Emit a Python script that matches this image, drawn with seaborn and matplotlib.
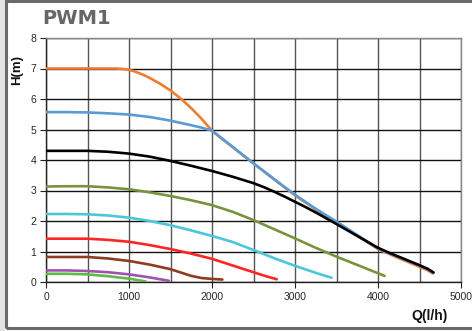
#!/usr/bin/env python3
"""PWM1 pump curves: head H(m) vs flow Q(l/h) for each speed step."""

import matplotlib

matplotlib.use("Agg")
import matplotlib.pyplot as plt
import pandas as pd
import seaborn as sns
from matplotlib.patches import Rectangle
from matplotlib.ticker import MultipleLocator

# curves, top speed first
q_orange = [0, 500, 850, 950, 1000, 1050, 1100, 1175, 1250, 1375, 1500, 1625, 1750, 1875, 2000,
            2125, 2250, 2375, 2500, 2750, 3000, 3250, 3500, 3750, 4000, 4250, 4500, 4600, 4660]
h_orange = [7.0, 7.0, 7.0, 6.98, 6.95, 6.92, 6.87, 6.79, 6.69, 6.50, 6.28, 6.01, 5.70, 5.35, 4.96,
            4.68, 4.42, 4.15, 3.89, 3.36, 2.84, 2.38, 1.96, 1.52, 1.08, 0.78, 0.50, 0.38, 0.28]

q_blue = [0, 250, 500, 750, 1000, 1250, 1500, 1750, 1875, 2000, 2125, 2250, 2375, 2500,
          2750, 3000, 3250, 3500, 3750, 4000, 4250, 4500, 4600, 4660]
h_blue = [5.57, 5.57, 5.56, 5.53, 5.49, 5.41, 5.29, 5.14, 5.06, 4.96, 4.70, 4.43, 4.16, 3.89,
          3.37, 2.86, 2.40, 1.98, 1.54, 1.10, 0.81, 0.54, 0.42, 0.31]

q_black = [0, 250, 500, 750, 1000, 1250, 1500, 1750, 2000, 2250, 2500, 2625, 2750, 2875, 3000,
           3125, 3250, 3375, 3500, 3750, 4000, 4125, 4250, 4375, 4500, 4600, 4670]
h_black = [4.30, 4.30, 4.30, 4.27, 4.21, 4.11, 3.97, 3.81, 3.64, 3.45, 3.24, 3.11, 2.96, 2.80, 2.63,
           2.46, 2.28, 2.09, 1.90, 1.51, 1.12, 0.97, 0.83, 0.69, 0.55, 0.43, 0.31]

q_olive = [0, 250, 500, 750, 1000, 1250, 1500, 1750, 2000, 2250, 2500, 2750, 3000, 3250,
           3500, 3750, 4080]
h_olive = [3.13, 3.14, 3.14, 3.10, 3.04, 2.94, 2.82, 2.68, 2.52, 2.30, 2.03, 1.73, 1.43, 1.12,
           0.83, 0.56, 0.20]

q_cyan = [0, 250, 500, 750, 1000, 1250, 1500, 1750, 2000, 2250, 2500, 2750, 3000, 3250, 3440]
h_cyan = [2.23, 2.23, 2.22, 2.18, 2.11, 2.00, 1.86, 1.69, 1.51, 1.31, 1.05, 0.78, 0.53, 0.30, 0.14]

q_red = [0, 250, 500, 750, 1000, 1250, 1500, 1750, 2000, 2250, 2500, 2650, 2780]
h_red = [1.42, 1.42, 1.42, 1.38, 1.32, 1.21, 1.08, 0.93, 0.76, 0.54, 0.32, 0.19, 0.09]

q_brown = [0, 250, 500, 750, 1000, 1250, 1500, 1625, 1750, 1875, 2000, 2125]
h_brown = [0.82, 0.82, 0.82, 0.77, 0.69, 0.57, 0.42, 0.31, 0.20, 0.13, 0.10, 0.08]

q_purple = [0, 250, 500, 750, 1000, 1250, 1480]
h_purple = [0.38, 0.38, 0.36, 0.32, 0.25, 0.15, 0.04]

q_green = [0, 250, 500, 750, 1000, 1200]
h_green = [0.27, 0.27, 0.25, 0.19, 0.11, 0.02]

curves = [
    ("orange", q_orange, h_orange, "#ED7D31"),
    ("blue", q_blue, h_blue, "#5B9BD5"),
    ("black", q_black, h_black, "#000000"),
    ("olive", q_olive, h_olive, "#77933C"),
    ("cyan", q_cyan, h_cyan, "#4BC6DB"),
    ("red", q_red, h_red, "#FF2525"),
    ("brown", q_brown, h_brown, "#8E3B1F"),
    ("purple", q_purple, h_purple, "#A052B0"),
    ("green", q_green, h_green, "#5DBB46"),
]

rows = []
for name, qs, hs, _ in curves:
    for i, (q, h) in enumerate(zip(qs, hs)):
        rows.append({"curve": name, "order": i, "Q": q, "H": h})
df = pd.DataFrame(rows)
palette = {name: color for name, _, _, color in curves}

sns.set_theme(style="white")
plt.rcParams["font.family"] = ["Liberation Sans", "DejaVu Sans"]

fig = plt.figure(figsize=(4.72, 3.31), dpi=100)
ax = fig.add_axes([46 / 472, 1 - 282 / 331, 415 / 472, 244 / 331])

# frame around the whole picture
fig.patches.append(Rectangle((0, 0), 5 / 472, 1, transform=fig.transFigure,
                             facecolor="#e4e4e4", edgecolor="none", zorder=0))
fig.patches.append(Rectangle((6 / 472, 3 / 331), 470 / 472, 327 / 331,
                             transform=fig.transFigure, facecolor="none",
                             edgecolor="#6a6a6a", linewidth=2.2, zorder=1))

sns.lineplot(data=df, x="Q", y="H", hue="curve", palette=palette,
             hue_order=[c[0] for c in curves], units="curve", estimator=None,
             sort=False, linewidth=1.9, legend=False, ax=ax, zorder=3)
for line in ax.lines:
    line.set_solid_joinstyle("round")
    line.set_solid_capstyle("round")

ax.set_xlim(0, 5000)
ax.set_ylim(0, 8)
ax.xaxis.set_major_locator(MultipleLocator(1000))
ax.xaxis.set_minor_locator(MultipleLocator(500))
ax.yaxis.set_major_locator(MultipleLocator(1))
ax.grid(which="major", axis="y", color="#111111", linewidth=1.0, zorder=1)
ax.grid(which="both", axis="x", color="#555555", linewidth=1.0, zorder=1)
ax.set_axisbelow(True)
ax.tick_params(axis="both", which="major", labelsize=7.5, length=4, width=0.8,
               color="#222222", pad=3, bottom=True, left=True)
ax.tick_params(axis="x", which="minor", length=0)
for side, sp in ax.spines.items():
    sp.set_visible(True)
    sp.set_color("#222222" if side in ("left", "bottom") else "#888888")
    sp.set_linewidth(1.0)

ax.set_xlabel("")
ax.set_ylabel("")
fig.text(17 / 472, 1 - 70 / 331, "H(m)", rotation=90, ha="center", va="center",
         fontsize=9.5, fontweight="bold", color="#111111")
fig.text(430 / 472, 1 - 316 / 331, "Q(l/h)", ha="center", va="center",
         fontsize=10, fontweight="bold", color="#111111")
fig.text(42 / 472, 1 - 18 / 331, "PWM1", ha="left", va="center",
         fontsize=14, fontweight="bold", color="#666666",
         family=["DejaVu Sans"])

fig.savefig("out.png", dpi=100)
